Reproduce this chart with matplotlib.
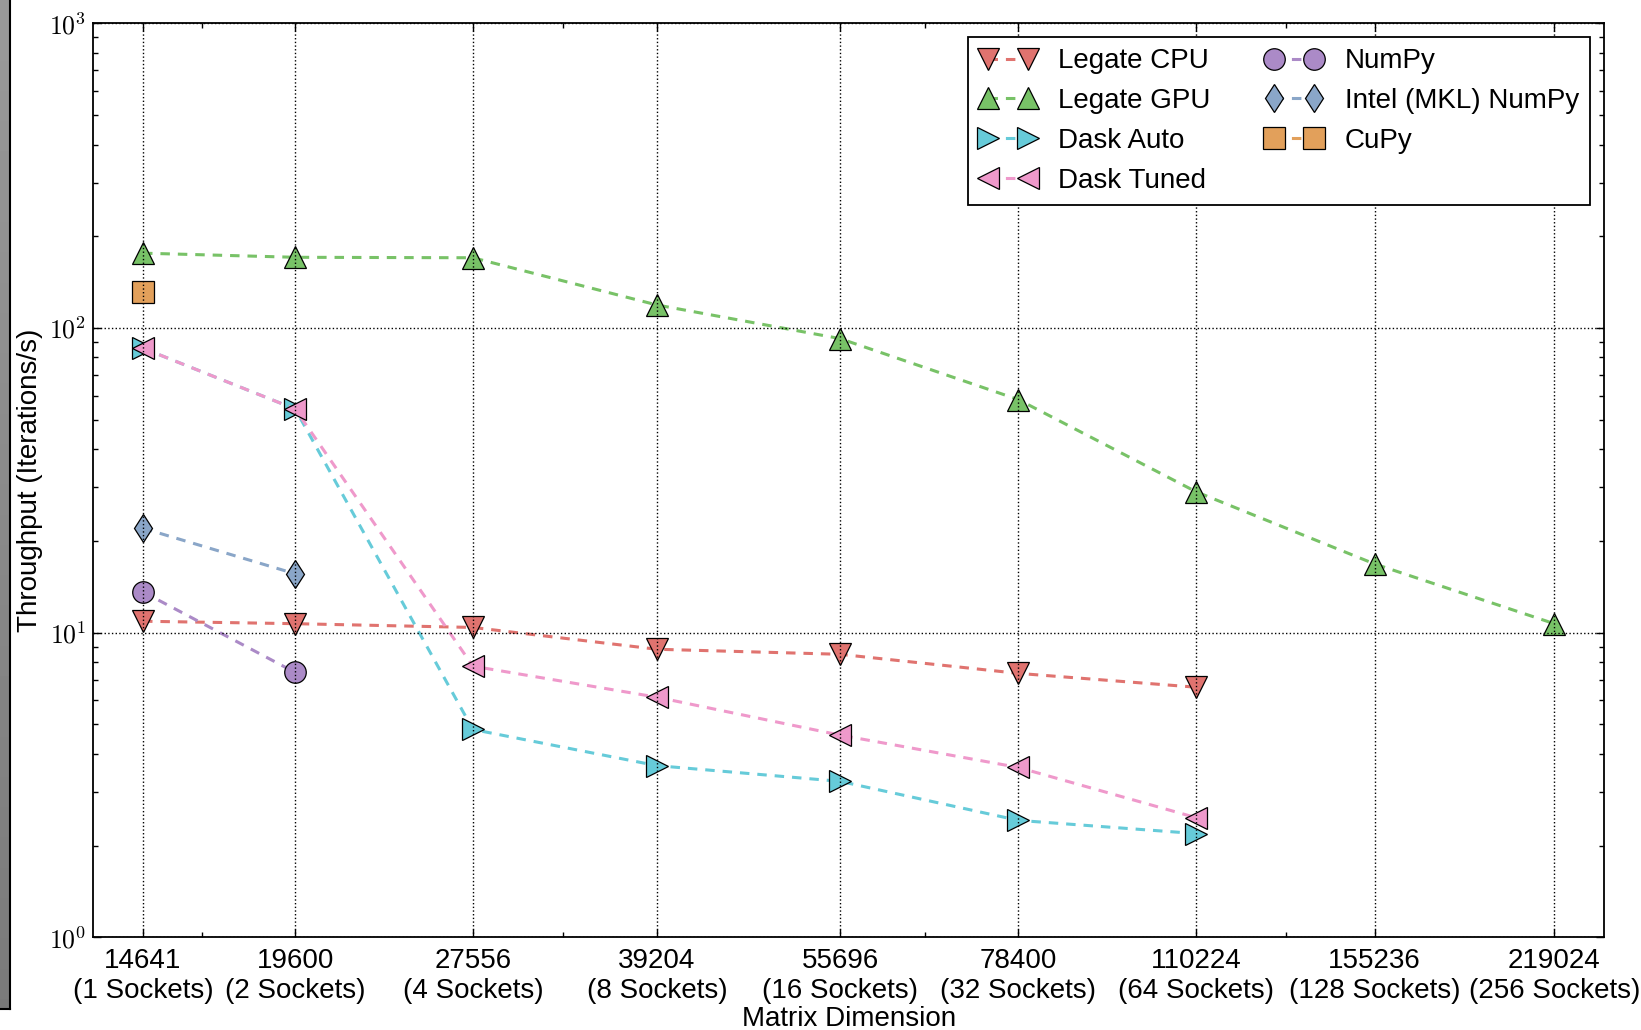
import numpy as np
import matplotlib as mpl
import matplotlib.pyplot as plt
from matplotlib.ticker import FixedLocator, NullFormatter, FuncFormatter

mpl.rcParams['font.family'] = ['Liberation Sans', 'DejaVu Sans']
mpl.rcParams['mathtext.fontset'] = 'cm'

# === data ===
dims = [14641, 19600, 27556, 39204, 55696, 78400, 110224, 155236, 219024]
sockets = [1, 2, 4, 8, 16, 32, 64, 128, 256]

legate_cpu = [10.9, 10.7, 10.4, 8.82, 8.49, 7.35, 6.62]
legate_gpu = [176, 170.6, 170, 119, 92.3, 58.2, 29.0, 16.8, 10.7]
dask_auto = [85.8, 54.2, 4.81, 3.66, 3.25, 2.42, 2.19]
dask_tuned = [85.8, 54.2, 7.76, 6.14, 4.61, 3.61, 2.47]
numpy_vals = [13.6, 7.40]
mkl_numpy = [22.0, 15.6]
cupy_vals = [131.5]

series = [
    ('Legate CPU', legate_cpu, 'v', '#e0736f'),
    ('Legate GPU', legate_gpu, '^', '#78c267'),
    ('Dask Auto', dask_auto, '>', '#66cbd9'),
    ('Dask Tuned', dask_tuned, '<', '#ef99cb'),
    ('NumPy', numpy_vals, 'o', '#ab8ac7'),
    ('Intel (MKL) NumPy', mkl_numpy, 'd', '#8aa6c8'),
    ('CuPy', cupy_vals, 's', '#e2a05b'),
]

FS = 20

fig = plt.figure(figsize=(16.41, 10.30), dpi=100)
ax = fig.add_axes([93.3/1641, 1-937.3/1030, (1604-93.3)/1641, (937.3-23.3)/1030])

for name, vals, mk, col in series:
    ms = 15.5 if mk != 'd' else 14.5
    ax.plot(dims[:len(vals)], vals, linestyle=(0, (3.1, 2.6)), lw=2.2, color=col,
            marker=mk, markersize=ms, markerfacecolor=col, markeredgecolor='black',
            markeredgewidth=0.9, label=name)

ax.set_xscale('log', base=2)
ax.set_yscale('log')
ax.set_xlim(dims[0] / 1.1, dims[-1] * 1.1)
ax.set_ylim(1, 1000)

ax.set_xticks(dims, [f'{d}\n({s} Sockets)' for d, s in zip(dims, sockets)])
ax.xaxis.set_minor_locator(FixedLocator([2**14, 2**15, 2**16, 2**17]))
ax.xaxis.set_minor_formatter(NullFormatter())
ax.yaxis.set_major_formatter(FuncFormatter(lambda v, p: r'$10^{%d}$' % round(np.log10(v))))

ax.tick_params(which='both', direction='in', top=True, right=True, labelsize=FS)
ax.tick_params(which='major', length=6, width=1)
ax.tick_params(which='minor', length=3.5, width=1)
ax.tick_params(axis='x', pad=7.5)
ax.tick_params(axis='y', pad=5, labelsize=18.5)

ax.set_axisbelow(False)
ax.grid(True, which='major', color='black', linestyle=':', linewidth=1.0)
for sp in ax.spines.values():
    sp.set_linewidth(1.3)

ax.set_xlabel('Matrix Dimension', fontsize=FS)
ax.set_ylabel('Throughput (Iterations/s)', fontsize=FS)
ax.xaxis.set_label_coords(0.5, -0.075)
ax.yaxis.set_label_coords(-0.033, 0.5)

leg = ax.legend(loc='upper right', ncol=2, numpoints=2, fontsize=FS, fancybox=False,
                framealpha=1, edgecolor='black', borderaxespad=0.5, handlelength=2.03,
                handletextpad=0.8, columnspacing=2.0, labelspacing=0.5, borderpad=0.4)
leg.get_frame().set_linewidth(1.3)

# gray strip at the left edge (neighbouring panel)
bar = fig.add_axes([0, 1 - 1009/1030, 10/1641, 1009/1030])
grad = np.linspace(0.60, 0.48, 100).reshape(-1, 1)
bar.imshow(grad, cmap='gray', vmin=0, vmax=1, aspect='auto', extent=(0, 1, 0, 1))
bar.set_xticks([]); bar.set_yticks([])
bar.spines['top'].set_visible(False)
bar.spines['left'].set_visible(False)
bar.spines['right'].set_linewidth(1.5)
bar.spines['bottom'].set_linewidth(1.5)

fig.savefig('out.png', dpi=100)
